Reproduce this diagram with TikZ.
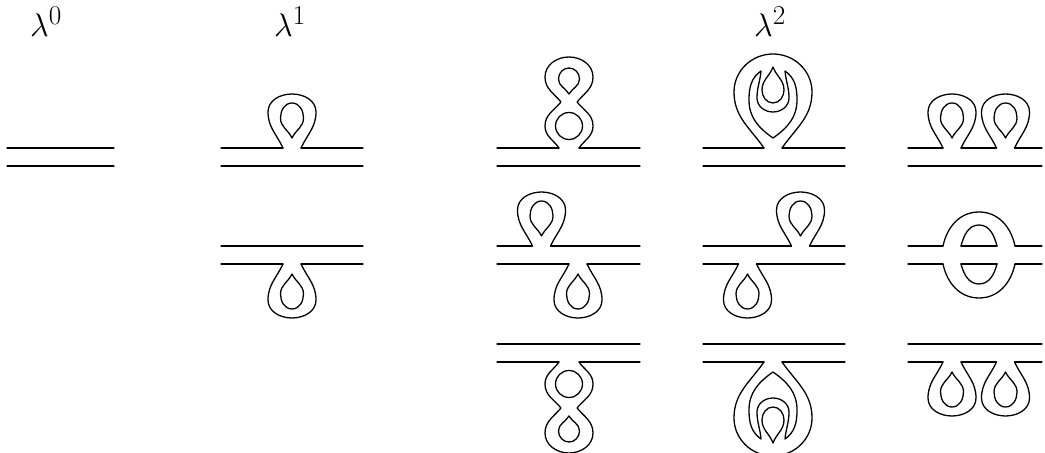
\documentclass[tikz,border=0pt]{standalone}
\usepackage{amsmath}
\usepackage{tikz}
\tikzset{
    ribbon/.style={draw, line width=1.1pt, line cap=round, line join=round},
    lbl/.style={font=\Huge, scale=1.12},
    tadpole/.pic={
        \draw[ribbon] (-9,0) to[out=115,in=-90] (-24,36) to[out=90,in=180] (0,54) to[out=0,in=90] (24,36) to[out=-90,in=65] (9,0);
        \draw[ribbon] (0,10) to[out=115,in=-90] (-11.5,30) to[out=90,in=180] (0,45) to[out=0,in=90] (11.5,30) to[out=-90,in=65] (0,10) -- cycle;
    },
    eight/.pic={
        \draw[ribbon] (-10,0) to[out=125,in=-90] (-24,22) to[out=90,in=-130] (-8,46) to[out=130,in=-90] (-24,71) to[out=90,in=180] (0,91)
            to[out=0,in=90] (24,71) to[out=-90,in=50] (8,46) to[out=-50,in=90] (24,22) to[out=-90,in=55] (10,0);
        \draw[ribbon] (0,22) circle[radius=13.5];
        \draw[ribbon] (0,54) to[out=120,in=-90] (-10.5,69) to[out=90,in=180] (0,80) to[out=0,in=90] (10.5,69) to[out=-90,in=60] (0,54) -- cycle;
    },
    nest/.pic={
        \draw[ribbon] (-9,0) to[out=125,in=-90] (-39,56) to[out=90,in=180] (0,94) to[out=0,in=90] (39,56) to[out=-90,in=55] (9,0);
        \draw[ribbon] (-12,77) to[out=-95,in=90] (-16,50) to[out=-90,in=180] (0,36) to[out=0,in=-90] (16,50) to[out=90,in=-85] (12,77)
            to[out=-35,in=90] (24,48) to[out=-90,in=35] (0,10) to[out=145,in=-90] (-24,48) to[out=90,in=-145] (-12,77) -- cycle;
        \draw[ribbon] (0,81) to[out=-110,in=90] (-11,58) to[out=-90,in=180] (0,45) to[out=0,in=-90] (11,58) to[out=90,in=-70] (0,81) -- cycle;
    },
    theta/.pic={
        \draw[ribbon] (-36,0) to[out=78,in=180] (0,34) to[out=0,in=102] (36,0);
        \draw[ribbon] (-36,-18) to[out=-78,in=180] (0,-52) to[out=0,in=-102] (36,-18);
        \draw[ribbon] (-18,0) to[out=75,in=180] (0,21) to[out=0,in=105] (18,0) -- cycle;
        \draw[ribbon] (-18,-18) to[out=-75,in=180] (0,-38) to[out=0,in=-105] (18,-18) -- cycle;
    },
}

\begin{document}
\begin{tikzpicture}[x=0.03cm, y=0.03cm]
    \useasboundingbox (0,0) rectangle (1045,453);
    \node[lbl] (lam0) at (46,431) {$\lambda^0$};
    \node[lbl] (lam1) at (290,431) {$\lambda^1$};
    \node[lbl] (lam2) at (770,431) {$\lambda^2$};

    \draw[ribbon] (7,305) -- (114,305) (7,287) -- (114,287);

    \draw[ribbon] (221,305) -- (283,305) (301,305) -- (363,305) (221,287) -- (363,287);
    \pic at (292,305) {tadpole};
    \draw[ribbon] (221,207) -- (363,207) (221,189) -- (283,189) (301,189) -- (363,189);
    \pic[yscale=-1] at (292,189) {tadpole};

    \draw[ribbon] (497,305) -- (559,305) (579,305) -- (640,305) (497,287) -- (640,287);
    \pic at (569,305) {eight};
    \draw[ribbon] (497,207) -- (532.5,207) (550.5,207) -- (640,207) (497,189) -- (569,189) (587,189) -- (640,189);
    \pic at (541.5,207) {tadpole};
    \pic[yscale=-1] at (578,189) {tadpole};
    \draw[ribbon] (497,109) -- (640,109) (497,91) -- (559,91) (579,91) -- (640,91);
    \pic[yscale=-1] at (569,91) {eight};

    \draw[ribbon] (703,305) -- (764,305) (782,305) -- (845,305) (703,287) -- (845,287);
    \pic at (773,305) {nest};
    \draw[ribbon] (703,207) -- (791.5,207) (809.5,207) -- (845,207) (703,189) -- (738.5,189) (756.5,189) -- (845,189);
    \pic at (800.5,207) {tadpole};
    \pic[yscale=-1] at (747.5,189) {tadpole};
    \draw[ribbon] (703,109) -- (845,109) (703,91) -- (764,91) (782,91) -- (845,91);
    \pic[yscale=-1] at (773,91) {nest};

    \draw[ribbon] (908,305) -- (943,305) (961,305) -- (996.5,305) (1014.5,305) -- (1042,305) (908,287) -- (1042,287);
    \pic at (952,305) {tadpole};
    \pic at (1005.5,305) {tadpole};
    \draw[ribbon] (908,207) -- (943,207) (961,207) -- (997,207) (1015,207) -- (1042,207)
        (908,189) -- (943,189) (961,189) -- (997,189) (1015,189) -- (1042,189);
    \pic at (979,207) {theta};
    \draw[ribbon] (908,109) -- (1042,109) (908,91) -- (943,91) (961,91) -- (996.5,91) (1014.5,91) -- (1042,91);
    \pic[yscale=-1] at (952,91) {tadpole};
    \pic[yscale=-1] at (1005.5,91) {tadpole};
\end{tikzpicture}
\end{document}
